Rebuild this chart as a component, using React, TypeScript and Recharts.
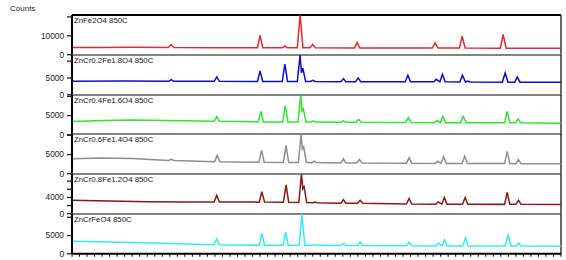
import { LineChart, Line, XAxis, YAxis, ReferenceLine } from "recharts"

type Pt = [number, number]

// sample names, top to bottom
const samples = [
  "ZnFe2O4 850C",
  "ZnCr0.2Fe1.8O4 850C",
  "ZnCr0.4Fe1.6O4 850C",
  "ZnCr0.6Fe1.4O4 850C",
  "ZnCr0.8Fe1.2O4 850C",
  "ZnCrFeO4 850C",
]

// [2theta, counts]
const znFe2O4: Pt[] = [
  [5, 3800], [9, 3850], [13, 3950], [17.8, 3850], [18.17, 5400], [18.55, 3850],
  [24, 3750], [29.65, 3700], [30.0, 10400], [30.35, 3700],
  [32.95, 3650], [33.3, 4600], [33.6, 3650],
  [34.95, 3650], [35.32, 21000], [35.7, 3700],
  [36.65, 3650], [37.0, 5400], [37.35, 3650],
  [42.55, 3600], [42.9, 6450], [43.25, 3600],
  [52.9, 3550], [53.27, 6250], [53.65, 3550],
  [56.5, 3550], [56.86, 9840], [57.25, 3550],
  [61.95, 3500], [62.31, 10750], [62.7, 3500],
  [70, 3500],
]

const cr02: Pt[] = [
  [5, 4000], [12, 4100], [17.85, 4000], [18.2, 4500], [18.55, 4000],
  [23.9, 4000], [24.24, 5300], [24.6, 4000],
  [29.65, 3950], [30.0, 7100], [30.35, 3950],
  [32.95, 3950], [33.3, 9100], [33.65, 3950],
  [34.95, 3950], [35.32, 11830], [35.5, 6500], [35.68, 7900], [36.05, 3950],
  [36.7, 3950], [37.0, 4300], [37.3, 3950],
  [40.75, 3900], [41.08, 4800], [41.4, 3900],
  [42.7, 3900], [43.03, 5000], [43.4, 3900],
  [49.3, 3850], [49.64, 5800], [50.0, 3850],
  [53.1, 3850], [53.4, 4600], [53.9, 3850], [54.24, 6100], [54.6, 3850],
  [56.55, 3800], [56.9, 5800], [57.3, 3800], [57.6, 4100], [57.9, 3800],
  [62.2, 3750], [62.58, 6500], [62.95, 3750],
  [63.85, 3750], [64.18, 5300], [64.55, 3750],
  [70, 3700],
]

const cr04: Pt[] = [
  [5, 3450], [9, 3700], [13, 3850], [20, 3650],
  [23.9, 3500], [24.24, 4750], [24.6, 3500],
  [29.75, 3350], [30.1, 6100], [30.45, 3350],
  [33.0, 3300], [33.35, 7600], [33.7, 3300],
  [35.05, 3300], [35.4, 10360], [35.58, 6200], [35.75, 6700], [36.1, 3300],
  [36.75, 3300], [37.05, 3600], [37.35, 3300],
  [40.75, 3250], [41.08, 3700], [41.4, 3250],
  [42.75, 3250], [43.1, 4000], [43.45, 3250],
  [49.35, 3200], [49.7, 4550], [50.05, 3200],
  [53.2, 3150], [53.5, 3700], [53.95, 3150], [54.3, 4750], [54.65, 3150],
  [56.65, 3150], [57.0, 4750], [57.4, 3150],
  [62.5, 3100], [62.85, 6100], [63.2, 3100],
  [63.95, 3100], [64.3, 4150], [64.65, 3100],
  [70, 3000],
]

const cr06: Pt[] = [
  [5, 3900], [9, 4100], [13, 3950], [17.85, 3450], [18.2, 3750], [18.55, 3450],
  [23.95, 3150], [24.3, 4750], [24.65, 3150],
  [29.85, 3000], [30.2, 6100], [30.55, 3000],
  [33.1, 2950], [33.45, 7400], [33.8, 2950],
  [35.1, 2950], [35.45, 10360], [35.62, 6400], [35.8, 7000], [36.15, 2950],
  [36.9, 2900], [37.2, 3300], [37.5, 2900],
  [40.75, 2800], [41.08, 3900], [41.4, 2800],
  [42.85, 2800], [43.2, 3700], [43.55, 2800],
  [49.45, 2750], [49.8, 4150], [50.15, 2750],
  [53.3, 2700], [53.6, 3260], [54.05, 2700], [54.4, 4400], [54.75, 2700],
  [56.85, 2650], [57.2, 4550], [57.55, 2650],
  [62.5, 2650], [62.85, 5850], [63.2, 2650],
  [64.0, 2600], [64.35, 3700], [64.7, 2600],
  [70, 2600],
]

const cr08: Pt[] = [
  [5, 3300], [10, 3100], [15, 2950], [20, 2900],
  [23.9, 2900], [24.24, 4550], [24.6, 2900],
  [29.9, 2850], [30.23, 5400], [30.6, 2850],
  [33.1, 2800], [33.46, 7100], [33.8, 2800],
  [35.15, 2750], [35.5, 9750], [35.68, 6100], [35.85, 6650], [36.2, 2750],
  [37.0, 2700], [37.3, 2900], [37.6, 2700],
  [40.75, 2600], [41.08, 3500], [41.4, 2600],
  [42.95, 2600], [43.3, 3300], [43.65, 2600],
  [49.45, 2400], [49.8, 3750], [50.15, 2400],
  [53.35, 2350], [53.67, 2900], [54.15, 2350], [54.5, 4000], [54.85, 2350],
  [56.9, 2350], [57.26, 4000], [57.6, 2350],
  [62.5, 2300], [62.85, 5250], [63.2, 2300],
  [64.0, 2300], [64.35, 3300], [64.7, 2300],
  [70, 2250],
]

const cr10: Pt[] = [
  [5, 3400], [10, 3250], [15, 3000], [20, 2700],
  [23.9, 2500], [24.24, 4100], [24.6, 2500],
  [29.9, 2350], [30.23, 5600], [30.6, 2350],
  [33.05, 2300], [33.4, 5900], [33.75, 2300],
  [35.2, 2300], [35.55, 10900], [35.95, 2300],
  [37.0, 2300], [37.3, 2540], [37.6, 2300],
  [40.75, 2250], [41.08, 2900], [41.4, 2250],
  [42.95, 2250], [43.3, 3170], [43.65, 2250],
  [49.45, 2200], [49.8, 3170], [50.15, 2200],
  [53.35, 2150], [53.67, 2900], [54.15, 2150], [54.5, 3820], [54.85, 2150],
  [56.95, 2150], [57.3, 4370], [57.65, 2150],
  [62.6, 2100], [62.98, 5270], [63.35, 2100],
  [64.0, 2100], [64.35, 2900], [64.7, 2100],
  [70, 2050],
]

const scans = [znFe2O4, cr02, cr04, cr06, cr08, cr10]

// y axis per panel
const yMax = [21000, 11830, 10360, 10360, 9750, 10900]
const yTicks = [
  [0, 10000, 20000],
  [0, 5000, 10000],
  [0, 5000, 10000],
  [0, 5000, 10000],
  [0, 2000, 4000, 6000, 8000],
  [0, 5000, 10000],
]
const yLabels = [
  [0, 10000],
  [0, 5000],
  [0, 5000],
  [0, 5000],
  [0, 4000],
  [0, 5000],
]

const degTicks = Array.from({ length: 66 }, (_, k) => 5 + k)

const colors = ["#e8282c", "#0c0cd8", "#2ee62e", "#8e8e8e", "#8c1616", "#30eeee"]

const W = 566
const PLOT_TOP = 15
const PANEL_H = 39.75
const FONT = "'Liberation Sans', Arial, sans-serif"

function Panel({ i }: { i: number }) {
  const last = i === samples.length - 1
  const mt = 6
  const mb = last ? 0 : 6
  const xh = last ? 8 : 0
  const h = mt + PANEL_H + mb + xh
  const top = PLOT_TOP + i * PANEL_H
  const data = scans[i].map(([t, c]) => ({ t, c }))
  const labels = yLabels[i]

  return (
    <div style={{ position: "absolute", left: 0, top: top - mt }}>
      <LineChart width={W} height={h} data={data} margin={{ top: mt, right: 5, bottom: mb, left: 0 }}>
        <XAxis
          type="number"
          dataKey="t"
          domain={[5, 70]}
          ticks={degTicks}
          interval={0}
          hide={!last}
          height={xh}
          tickSize={3}
          tick={() => <g />}
          axisLine={{ stroke: "#000", strokeWidth: 2 }}
          tickLine={{ stroke: "#000" }}
          allowDataOverflow
        />
        <YAxis
          type="number"
          domain={[0, yMax[i]]}
          ticks={yTicks[i]}
          interval={0}
          width={72}
          tickSize={5}
          tickMargin={3}
          allowDataOverflow
          axisLine={{ stroke: "#000", strokeWidth: 2 }}
          tickLine={{ stroke: "#222", strokeWidth: 1.3 }}
          tick={(p: any) =>
            labels.includes(p.payload.value) ? (
              <text x={p.x} y={p.y} dy="0.35em" textAnchor="end" fontSize={8.3} fontFamily={FONT} fill="#222">
                {p.payload.value}
              </text>
            ) : (
              <g />
            )
          }
        />
        <ReferenceLine
          y={yMax[i]}
          stroke={i === 0 ? "#000" : "#5a5a5a"}
          strokeWidth={i === 0 ? 2 : 1.3}
        />
        <ReferenceLine x={70} stroke="#000" strokeWidth={1.2} />
        <Line
          type="linear"
          dataKey="c"
          stroke={colors[i]}
          strokeWidth={1.5}
          dot={false}
          isAnimationActive={false}
        />
      </LineChart>
      <div
        style={{
          position: "absolute",
          left: 74,
          top: mt + 1,
          fontSize: 7.8,
          lineHeight: "10px",
          fontFamily: FONT,
          color: "#111",
          whiteSpace: "nowrap",
        }}
      >
        {samples[i]}
      </div>
    </div>
  )
}

export default function App() {
  return (
    <div
      style={{
        position: "absolute",
        left: 0,
        top: 0,
        width: W,
        height: 260,
        background: "#fff",
        overflow: "hidden",
      }}
    >
      <div
        style={{
          position: "absolute",
          left: 10,
          top: 4,
          fontSize: 8,
          lineHeight: "10px",
          fontFamily: FONT,
          color: "#222",
        }}
      >
        Counts
      </div>
      {samples.map((_, i) => (
        <Panel key={i} i={i} />
      ))}
    </div>
  )
}
